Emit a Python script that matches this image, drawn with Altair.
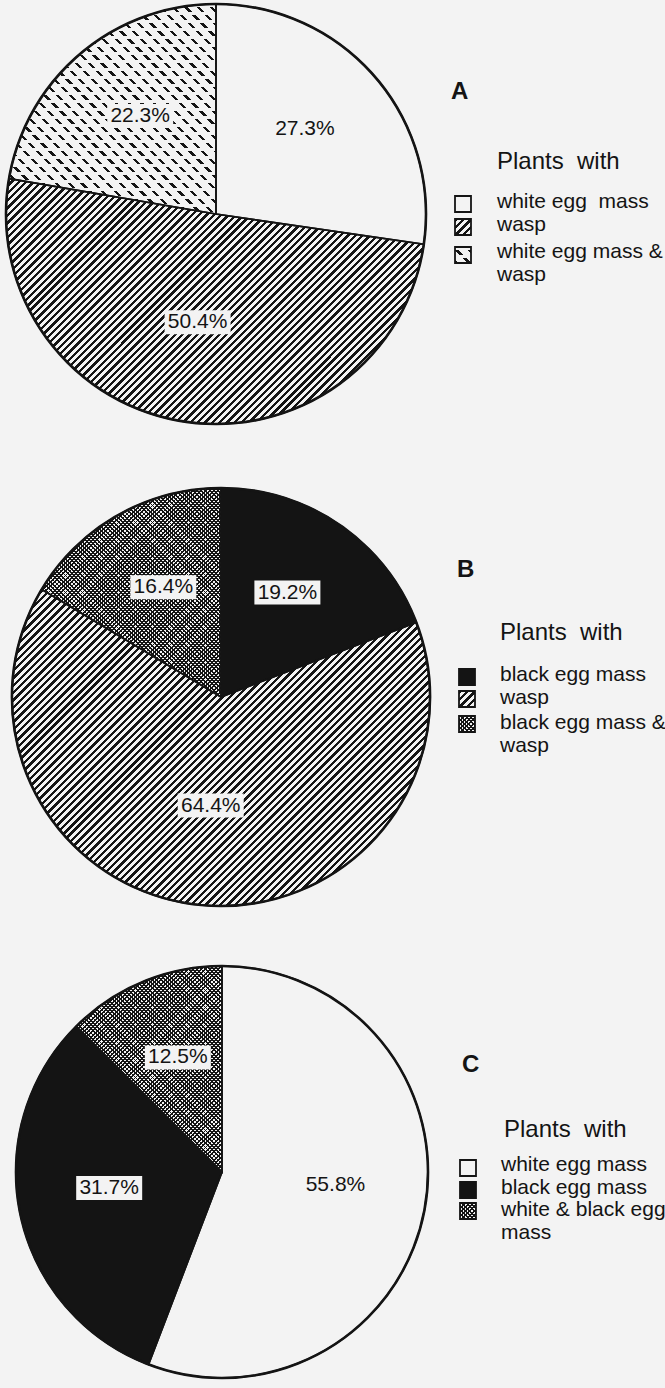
import math
import altair as alt
import pandas as pd

# ---- values -------------------------------------------------------------
slices_a = ["white egg mass", "wasp", "white egg mass & wasp"]
shares_a = [27.3, 50.4, 22.3]
slices_b = ["black egg mass", "wasp", "black egg mass & wasp"]
shares_b = [19.2, 64.4, 16.4]
slices_c = ["white egg mass", "black egg mass", "white & black egg mass"]
shares_c = [55.8, 31.7, 12.5]

panel_letters = ["A", "B", "C"]
legend_heading = "Plants\u00a0 with"
legend_a = ["white egg\u00a0 mass", "wasp", "white egg mass &\nwasp"]
legend_b = ["black egg mass", "wasp", "black egg mass &\nwasp"]
legend_c = ["white egg mass", "black egg mass", "white & black egg\nmass"]

# ---- styling / layout ---------------------------------------------------
FONT = "Liberation Sans"
INK = "#141414"
PAPER = "#f3f3f3"
CLEAR = "rgba(255,255,255,0)"
CANVAS_W, CANVAS_H = 665, 1388

panels = [
    dict(names=slices_a, shares=shares_a, legend=legend_a, kinds=["paper", "hatch", "dash"],
         cx=216, cy=214, r=210, letter=(451, 92), head=(497, 162), text_x=497,
         text_rows=[202, 225, 252], box_x=463, box_rows=[204, 227, 255]),
    dict(names=slices_b, shares=shares_b, legend=legend_b, kinds=["ink", "hatch", "dots"],
         cx=221, cy=697, r=209, letter=(457, 570), head=(500, 633), text_x=500,
         text_rows=[675, 698, 723], box_x=467, box_rows=[677, 699, 724]),
    dict(names=slices_c, shares=shares_c, legend=legend_c, kinds=["paper", "ink", "dots"],
         cx=222, cy=1172, r=206, letter=(462, 1065), head=(504, 1130), text_x=501,
         text_rows=[1165, 1188, 1210], box_x=468, box_rows=[1168, 1190, 1211]),
]
LABEL_R = 0.56     # label distance from centre, as a share of the radius
LABEL_DY = -8      # labels sit slightly above the slice's mid-ray
LABEL_SIZE = 21
LABEL_BOX_W, LABEL_BOX_H = 66, 24
LINE_H = 23
BOX = 16


def stripe_fill(kind, w, h, period, duty, ink, gap):
    """Linear gradient with hard stops, giving parallel stripes over a w x h box."""
    s2 = math.sqrt(2)
    if kind == "/":
        a = (w + h) / (w * w + h * h)
        x1, y1, x2, y2 = 0, 0, a * w, a * h
        span = (w + h) / s2
    elif kind == "\\":
        a = (w + h) / (w * w + h * h)
        x1, y1, x2, y2 = 0, 1, a * w, 1 - a * h
        span = (w + h) / s2
    else:
        x1, y1, x2, y2 = 0, 0, 0, 1
        span = h
    dt = period / span
    stops = []
    t = 0.0
    while t < 1 - 1e-9:
        tm = min(t + duty * dt, 1.0)
        te = min(t + dt, 1.0)
        stops += [
            {"offset": round(t, 5), "color": ink},
            {"offset": round(tm, 5), "color": ink},
            {"offset": round(tm, 5), "color": gap},
            {"offset": round(te, 5), "color": gap},
        ]
        t += dt
    return alt.LinearGradient(gradient="linear", stops=stops, x1=x1, y1=y1, x2=x2, y2=y2)


def pattern(kind, w, h):
    """Return (base fill, optional overlay fill) for a texture over a w x h box."""
    if kind == "paper":
        return PAPER, None
    if kind == "ink":
        return INK, None
    if kind == "hatch":
        return stripe_fill("/", w, h, 5.2, 0.46, INK, PAPER), None
    if kind == "dash":
        return (stripe_fill("\\", w, h, 9.0, 0.26, INK, PAPER),
                stripe_fill("-", w, h, 8.0, 0.36, PAPER, CLEAR))
    # dense dotted texture
    return (stripe_fill("/", w, h, 3.0, 0.45, INK, PAPER),
            stripe_fill("\\", w, h, 3.0, 0.45, INK, CLEAR))


def sector_box(a0, a1, r):
    pts = [(0.0, 0.0)]
    angs = [a0, a1] + [k * 90 for k in range(5) if a0 < k * 90 < a1]
    for a in angs:
        rad = math.radians(a)
        pts.append((r * math.sin(rad), -r * math.cos(rad)))
    xs = [p[0] for p in pts]
    ys = [p[1] for p in pts]
    return max(max(xs) - min(xs), 1), max(max(ys) - min(ys), 1)


theta_scale = alt.Scale(domain=[0, 100])
fill_layers, overlay_layers, outline_layers, label_layers = [], [], [], []
swatch_layers = []
legend_rows = []

for p in panels:
    df = pd.DataFrame({"k": range(len(p["shares"])), "slice": p["names"], "share": p["shares"]})
    rl = p["r"] * LABEL_R
    pie = (
        alt.Chart(df)
        .transform_window(t1="sum(share)", sort=[alt.SortField("k")], frame=[None, 0])
        .transform_calculate(
            t0="datum.t1 - datum.share",
            mid="datum.t1 - datum.share / 2",
            label="format(datum.share, '.1f') + '%'",
        )
        .transform_calculate(
            lx=f"{p['cx']} + {rl} * sin(2 * PI * datum.mid / 100)",
            ly=f"{p['cy']} - {rl} * cos(2 * PI * datum.mid / 100) + ({LABEL_DY})",
        )
        .transform_calculate(
            bx0=f"datum.lx - {LABEL_BOX_W / 2}", bx1=f"datum.lx + {LABEL_BOX_W / 2}",
            by0=f"datum.ly - {LABEL_BOX_H / 2}", by1=f"datum.ly + {LABEL_BOX_H / 2}",
        )
    )
    pos = dict(x=alt.value(p["cx"]), y=alt.value(p["cy"]))
    total = sum(p["shares"])
    start = 0.0
    for i, (share, kind) in enumerate(zip(p["shares"], p["kinds"])):
        a0 = start / total * 360
        a1 = (start + share) / total * 360
        start += share
        w, h = sector_box(a0, a1, p["r"])
        base, over = pattern(kind, w, h)
        one = pie.transform_filter(alt.datum.k == i)
        enc = dict(theta=alt.Theta("t0:Q", stack=None, scale=theta_scale), theta2="t1:Q", **pos)
        fill_layers.append(one.mark_arc(radius=p["r"], fill=base, strokeWidth=0).encode(**enc))
        if over is not None:
            overlay_layers.append(one.mark_arc(radius=p["r"], fill=over, strokeWidth=0).encode(**enc))

    # slice borders and the heavier rim
    outline_layers.append(
        pie.mark_arc(radius=p["r"], filled=False, stroke=INK, strokeWidth=1.7).encode(
            theta=alt.Theta("t0:Q", stack=None, scale=theta_scale), theta2="t1:Q", **pos)
    )
    outline_layers.append(
        alt.Chart(pd.DataFrame({"k": [0]}))
        .mark_arc(radius=p["r"], theta=0, theta2=2 * math.pi, filled=False, stroke=INK, strokeWidth=2.6)
        .encode(**pos)
    )

    # percentage labels on cleared boxes
    label_layers.append(
        pie.mark_rect(fill=PAPER, strokeWidth=0).encode(
            x=alt.X("bx0:Q", scale=None), x2="bx1:Q",
            y=alt.Y("by0:Q", scale=None), y2="by1:Q")
    )
    label_layers.append(
        pie.mark_text(font=FONT, fontSize=LABEL_SIZE, fill=INK, align="center", baseline="middle").encode(
            x=alt.X("lx:Q", scale=None), y=alt.Y("ly:Q", scale=None), text="label:N")
    )

    # legend swatches
    for kind, by in zip(p["kinds"], p["box_rows"]):
        base, over = pattern(kind, BOX, BOX)
        spos = dict(x=alt.value(p["box_x"]), y=alt.value(by))
        sw = alt.Chart(pd.DataFrame({"k": [0]}))
        swatch_layers.append(sw.mark_square(size=BOX * BOX, fill=base, strokeWidth=0, opacity=1).encode(**spos))
        if over is not None:
            swatch_layers.append(sw.mark_square(size=BOX * BOX, fill=over, strokeWidth=0, opacity=1).encode(**spos))
        swatch_layers.append(
            sw.mark_square(size=BOX * BOX, filled=False, stroke=INK, strokeWidth=1.8, opacity=1).encode(**spos))

    # legend text lines
    for item, ty in zip(p["legend"], p["text_rows"]):
        for j, line in enumerate(item.split("\n")):
            legend_rows.append({"txt": line, "x": p["text_x"], "y": ty + j * LINE_H, "kind": "item"})
    legend_rows.append({"txt": legend_heading, "x": p["head"][0], "y": p["head"][1], "kind": "head"})

letter_df = pd.DataFrame({
    "txt": panel_letters,
    "x": [p["letter"][0] for p in panels],
    "y": [p["letter"][1] for p in panels],
})
legend_df = pd.DataFrame(legend_rows)

letters = alt.Chart(letter_df).mark_text(
    font=FONT, fontSize=24, fontWeight="bold", align="left", baseline="middle", fill=INK
).encode(x=alt.X("x:Q", scale=None), y=alt.Y("y:Q", scale=None), text="txt:N")

heads = alt.Chart(legend_df).transform_filter(alt.datum.kind == "head").mark_text(
    font=FONT, fontSize=24, align="left", baseline="middle", fill=INK
).encode(x=alt.X("x:Q", scale=None), y=alt.Y("y:Q", scale=None), text="txt:N")

items = alt.Chart(legend_df).transform_filter(alt.datum.kind == "item").mark_text(
    font=FONT, fontSize=21, align="left", baseline="middle", fill=INK
).encode(x=alt.X("x:Q", scale=None), y=alt.Y("y:Q", scale=None), text="txt:N")

chart = (
    alt.layer(*fill_layers, *overlay_layers, *outline_layers, *label_layers,
              *swatch_layers, letters, heads, items)
    .properties(width=CANVAS_W, height=CANVAS_H, background=PAPER, padding=0,
                autosize=alt.AutoSizeParams(type="none"))
    .configure_view(stroke=None)
)

chart.save("out.html", embed_options={"renderer": "svg", "actions": False})
